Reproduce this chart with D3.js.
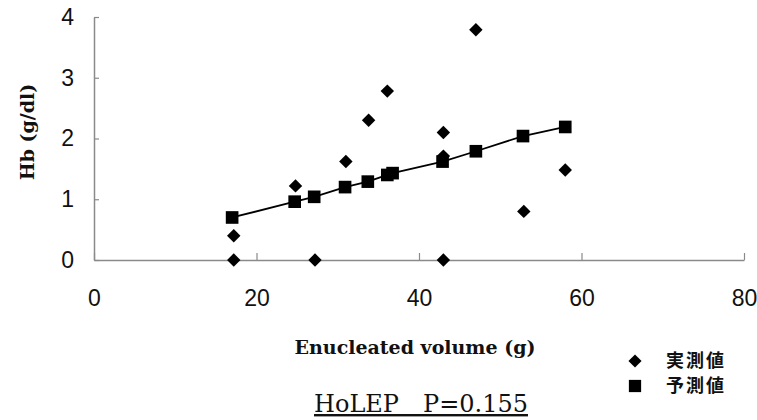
<!DOCTYPE html>
<html>
<head>
<meta charset="utf-8">
<script src="https://cdn.jsdelivr.net/npm/d3@7"></script>
<style>
  body { margin: 0; background: #fff; }
  svg { display: block; }
</style>
</head>
<body>
<script>
// measured values (実測値)
const measuredX = [17.2, 17.2, 24.8, 27.2, 31.0, 33.8, 36.1, 43.0, 43.0, 43.0, 47.0, 52.9, 58.0];
const measuredY = [0.40, 0.00, 1.22, 0.00, 1.62, 2.30, 2.78, 2.10, 1.71, 0.00, 3.79, 0.80, 1.48];
// predicted values (予測値)
const predX = [17.0, 24.7, 27.1, 30.9, 33.7, 36.1, 36.75, 42.9, 47.0, 52.8, 58.0];
const predY = [0.70, 0.96, 1.04, 1.20, 1.29, 1.40, 1.43, 1.62, 1.79, 2.04, 2.19];

const xTicks = [0, 20, 40, 60, 80];
const yTicks = [0, 1, 2, 3, 4];
const legendLabels = ['実測値', '予測値'];

const width = 757, height = 420;
const svg = d3.select('body').append('svg')
  .attr('width', width)
  .attr('height', height);

const x = d3.scaleLinear().domain([0, 80]).range([94, 744]);
const y = d3.scaleLinear().domain([0, 4]).range([260, 17]);

const axisColor = '#8a8a8a';
const tickFont = '"Liberation Sans", Arial, sans-serif';

// x axis
const gx = svg.append('g')
  .attr('transform', `translate(0,${y(0)})`)
  .call(d3.axisBottom(x).tickValues(xTicks).tickFormat(d3.format('d'))
    .tickSizeInner(-7).tickSizeOuter(0).tickPadding(30));
gx.select('.domain').attr('stroke', axisColor).attr('stroke-width', 1.5);
gx.selectAll('.tick line').attr('stroke', axisColor).attr('stroke-width', 1.2);
gx.selectAll('.tick text')
  .attr('fill', '#111')
  .style('font-family', tickFont)
  .style('font-size', '23px');

// y axis
const gy = svg.append('g')
  .attr('transform', `translate(${x(0)},0)`)
  .call(d3.axisLeft(y).tickValues(yTicks).tickFormat(d3.format('d'))
    .tickSizeInner(-5).tickSizeOuter(0).tickPadding(20));
gy.select('.domain').attr('stroke', axisColor).attr('stroke-width', 1.5);
gy.selectAll('.tick line').attr('stroke', axisColor).attr('stroke-width', 1.2);
gy.selectAll('.tick text')
  .attr('fill', '#111')
  .style('font-family', tickFont)
  .style('font-size', '23px');

const diamond = d3.symbol().type(d3.symbolDiamond2).size(115);
const square = d3.symbol().type(d3.symbolSquare).size(160);

// measured points
svg.append('g').selectAll('path')
  .data(d3.zip(measuredX, measuredY))
  .join('path')
  .attr('d', diamond)
  .attr('transform', d => `translate(${x(d[0])},${y(d[1])})`)
  .attr('fill', '#000');

// predicted line + points
const pred = d3.zip(predX, predY);
svg.append('path')
  .datum(pred)
  .attr('d', d3.line().x(d => x(d[0])).y(d => y(d[1])))
  .attr('fill', 'none')
  .attr('stroke', '#000')
  .attr('stroke-width', 1.8);

svg.append('g').selectAll('path')
  .data(pred)
  .join('path')
  .attr('d', square)
  .attr('transform', d => `translate(${x(d[0])},${y(d[1])})`)
  .attr('fill', '#000');

// axis titles
const serif = '"DejaVu Serif", "Liberation Serif", serif';
svg.append('text')
  .attr('x', 415).attr('y', 354)
  .attr('text-anchor', 'middle')
  .style('font-family', serif)
  .style('font-size', '19px')
  .style('font-weight', 'bold')
  .attr('fill', '#111')
  .text('Enucleated volume (g)');

svg.append('text')
  .attr('transform', 'translate(34,132) rotate(-90)')
  .attr('text-anchor', 'middle')
  .style('font-family', serif)
  .style('font-size', '19px')
  .style('font-weight', 'bold')
  .attr('fill', '#111')
  .text('Hb (g/dl)');

// title
svg.append('text')
  .attr('x', 421).attr('y', 412)
  .attr('text-anchor', 'middle')
  .style('font-family', serif)
  .style('font-size', '24px')
  .style('text-decoration', 'underline')
  .attr('fill', '#111')
  .text('HoLEP\u3000P=0.155');

// legend
const legend = svg.append('g');
legendLabels.forEach((label, i) => {
  const cy = 361 + i * 25;
  legend.append('path')
    .attr('d', i === 0 ? d3.symbol().type(d3.symbolDiamond2).size(110)
                       : d3.symbol().type(d3.symbolSquare).size(150))
    .attr('transform', `translate(635,${cy})`)
    .attr('fill', '#000');
  legend.append('text')
    .attr('x', 666).attr('y', cy)
    .attr('dy', '0.36em')
    .style('font-family', '"Noto Sans CJK JP", sans-serif')
    .style('font-size', '18px')
    .style('font-weight', 'bold')
    .style('letter-spacing', '2px')
    .attr('fill', '#111')
    .text(label);
});
</script>
</body>
</html>
